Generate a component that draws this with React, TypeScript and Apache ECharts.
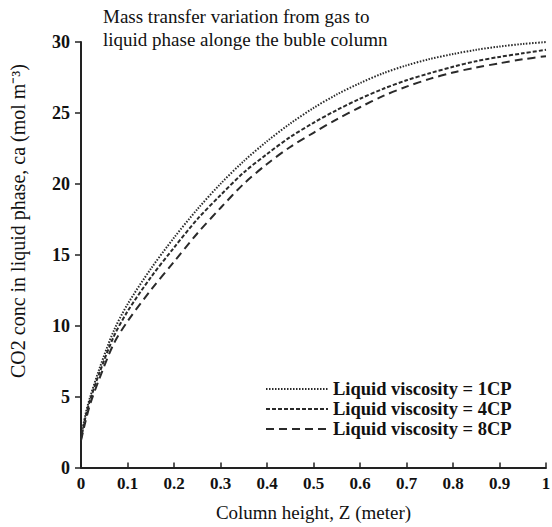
import React, { useEffect, useRef } from "react";
import * as echarts from "echarts";

const heights = [0, 0.01, 0.02, 0.04, 0.07, 0.1, 0.15, 0.2, 0.25, 0.3, 0.35, 0.4, 0.45, 0.5, 0.55, 0.6, 0.65, 0.7, 0.75, 0.8, 0.85, 0.9, 0.95, 1.0];
const visc1 = [2.1, 3.8, 5.0, 7.0, 9.6, 11.5, 14.0, 16.2, 18.2, 20.0, 21.6, 23.0, 24.25, 25.35, 26.3, 27.1, 27.8, 28.35, 28.8, 29.15, 29.45, 29.68, 29.86, 30.0];
const visc4 = [2.0, 3.6, 4.8, 6.7, 9.2, 11.0, 13.4, 15.5, 17.5, 19.2, 20.8, 22.1, 23.3, 24.3, 25.2, 26.0, 26.7, 27.3, 27.8, 28.25, 28.65, 28.95, 29.2, 29.45];
const visc8 = [1.9, 3.3, 4.5, 6.3, 8.7, 10.3, 12.5, 14.5, 16.5, 18.3, 20.0, 21.4, 22.6, 23.6, 24.55, 25.4, 26.2, 26.85, 27.4, 27.85, 28.2, 28.5, 28.78, 29.0];
const seriesNames = ["Liquid viscosity = 1CP", "Liquid viscosity = 4CP", "Liquid viscosity = 8CP"];
const titleText = "Mass transfer variation from gas to\nliquid phase alonge the buble column";
const xName = "Column height, Z (meter)";
const yName = "CO2 conc in liquid phase, ca (mol m\u207B\u00B3)";

const FONT = "Liberation Serif";
const INK = "#111111";

export default function App() {
  const ref = useRef<HTMLDivElement>(null);
  useEffect(() => {
    if (!ref.current) return;
    const chart = echarts.init(ref.current, undefined, { renderer: "svg" });
    const pair = (ys: number[]) => heights.map((x, i) => [x, ys[i]]);
    const dashes = [[1.5, 1.5], [4, 2], [8, 5]];
    const all = [visc1, visc4, visc8];
    chart.setOption({
      animation: false,
      backgroundColor: "#ffffff",
      title: {
        text: titleText,
        left: 98,
        top: 0,
        textStyle: { fontFamily: FONT, fontSize: 19, fontWeight: "normal", color: INK, lineHeight: 23 },
      },
      legend: {
        orient: "vertical",
        left: 260,
        top: 374,
        itemWidth: 62,
        itemHeight: 14,
        itemGap: 0,
        data: seriesNames,
        itemStyle: { opacity: 0 },
        textStyle: { fontFamily: FONT, fontSize: 18.5, fontWeight: "bold", color: INK, lineHeight: 20 },
      },
      grid: { left: 81, right: 6, top: 42, bottom: 59.5, containLabel: false, outerBoundsMode: "none" },
      xAxis: {
        type: "value",
        min: 0,
        max: 1,
        interval: 0.1,
        name: xName,
        nameLocation: "middle",
        nameGap: 35,
        nameTextStyle: { fontFamily: FONT, fontSize: 19, color: INK },
        splitLine: { show: false },
        axisLine: { show: true, lineStyle: { color: "#222", width: 2 } },
        axisTick: { show: true, inside: true, length: 5, lineStyle: { color: "#222", width: 1.5 } },
        axisLabel: {
          fontFamily: FONT,
          fontSize: 17,
          fontWeight: "bold",
          color: INK,
          margin: 7,
          formatter: (v: number) => String(Math.round(v * 10) / 10),
        },
      },
      yAxis: {
        type: "value",
        min: 0,
        max: 30,
        interval: 5,
        splitLine: { show: false },
        axisLine: { show: true, lineStyle: { color: "#222", width: 2 } },
        axisTick: { show: true, inside: false, length: 6, lineStyle: { color: "#222", width: 1.5 } },
        axisLabel: { fontFamily: FONT, fontSize: 18, fontWeight: "bold", color: INK, margin: 11 },
      },
      graphic: [
        {
          type: "text",
          x: 18,
          y: 221,
          rotation: Math.PI / 2,
          style: {
            text: yName,
            fontFamily: FONT,
            fontSize: 20,
            fill: INK,
            textAlign: "center",
            textVerticalAlign: "middle",
          },
        },
      ],
      series: all.map((ys, i) => ({
        name: seriesNames[i],
        type: "line",
        data: pair(ys),
        symbol: "none",
        smooth: 0.3,
        lineStyle: { color: "#2a2a2a", width: 2, type: dashes[i] },
        itemStyle: { color: "#2a2a2a" },
      })),
    });
    return () => chart.dispose();
  }, []);
  return <div ref={ref} style={{ position: "fixed", left: 0, top: 0, width: 552, height: 527 }} />;
}
